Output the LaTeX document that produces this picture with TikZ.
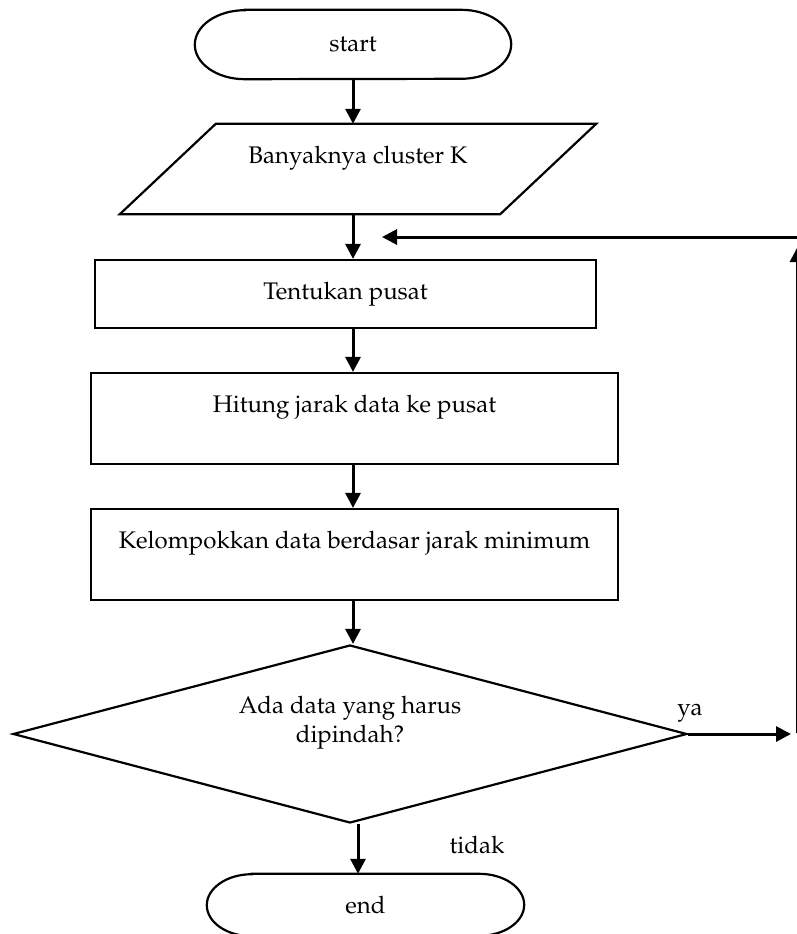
\documentclass[tikz,border=0pt]{standalone}
\usepackage[T1]{fontenc}
\usepackage{mathpazo}
\usepackage{tikz}
\usetikzlibrary{shapes.geometric}
\usetikzlibrary{arrows.meta}

\begin{document}
\begin{tikzpicture}[x=1pt,y=-1pt,
        every node/.style={font=\fontsize{24}{29}\selectfont},
        garis/.style={line width=2.2pt},
        kotak/.style={draw,rectangle,garis,align=center},
        panah/.style={line width=3pt,-{Triangle[length=15pt,width=15pt]}}]
        \useasboundingbox (0,0) rectangle (797,934);

        \node[minimum width=316pt,minimum height=69pt] (start) at (353,44.5) {start};
        \draw[garis] ([xshift=50pt]start.north west) -- ([xshift=-50pt]start.north east)
                arc[start angle=90,end angle=-90,x radius=50pt,y radius=34.5pt]
                -- ([xshift=50pt]start.south west)
                arc[start angle=270,end angle=90,x radius=50pt,y radius=34.5pt] -- cycle;
        \node[align=center,minimum width=380pt,minimum height=90pt,inner sep=0pt] (banyak) at (358,169) {Banyaknya cluster K\\ \mbox{}};
        \draw[garis] ([xshift=-48pt]banyak.south west) -- ([xshift=-48pt]banyak.south east)
                -- ([xshift=48pt]banyak.north east) -- ([xshift=48pt]banyak.north west) -- cycle;
        \node[kotak,minimum width=501pt,minimum height=68pt] (tentukan) at (345.5,294) {Tentukan pusat};
        \node[kotak,minimum width=527pt,minimum height=91pt] (hitung) at (354.5,418.5) {Hitung jarak data ke pusat\\ \mbox{}};
        \node[kotak,minimum width=527pt,minimum height=91pt] (kelompok) at (354.5,554.5) {Kelompokkan data berdasar jarak minimum\\ \mbox{}};
        \node[draw,diamond,garis,aspect=3.8,inner sep=0pt,minimum width=674pt,minimum height=178pt,align=center] (pindah) at (350,734) {Ada data yang harus\\dipindah?\\ \mbox{}};
        \node[minimum width=317pt,minimum height=62pt] (end) at (365.5,905) {end};
        \draw[garis] ([xshift=45pt]end.north west) -- ([xshift=-45pt]end.north east)
                arc[start angle=90,end angle=-90,x radius=45pt,y radius=31pt]
                -- ([xshift=45pt]end.south west)
                arc[start angle=270,end angle=90,x radius=45pt,y radius=31pt] -- cycle;

        \node (ya) at (690,713) {ya};
        \node (tidak) at (477,845) {tidak};

        \coordinate (cek-ya) at (791,734);
        \coordinate (balik-bawah) at (797.5,733);
        \coordinate (balik-atas) at (797.5,247);
        \coordinate (balik-kanan) at (805,237);
        \coordinate (balik-kiri) at (382,237);

        \draw[panah] (start.south) -- (start.south |- banyak.north);
        \draw[panah] (start.south |- banyak.south) -- (start.south |- tentukan.north);
        \draw[panah] (start.south |- tentukan.south) -- (start.south |- hitung.north);
        \draw[panah] (start.south |- hitung.south) -- (start.south |- kelompok.north);
        \draw[panah] (start.south |- kelompok.south) -- (start.south |- pindah.north);
        \draw[panah] ([xshift=8pt]pindah.south) -- ([xshift=-7.5pt]end.north);
        \draw[panah] (pindah.east) -- (cek-ya);
        \draw[panah] (balik-bawah) -- (balik-atas);
        \draw[panah] (balik-kanan) -- (balik-kiri);
\end{tikzpicture}
\end{document}
